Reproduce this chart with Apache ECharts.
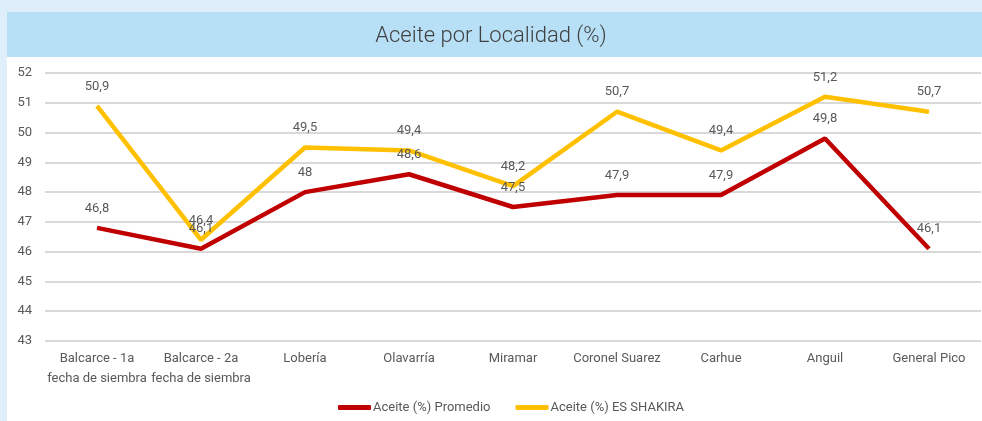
<!DOCTYPE html>
<html>
<head>
<meta charset="utf-8">
<script src="https://cdn.jsdelivr.net/npm/echarts@6/dist/echarts.min.js"></script>
<style>
  html, body { margin: 0; padding: 0; background: #deeefb; }
  #main { width: 982px; height: 421px; }
</style>
</head>
<body>
<div id="main"></div>
<script>
  // datos
  var localidades = ['Balcarce - 1a\nfecha de siembra', 'Balcarce - 2a\nfecha de siembra', 'Lobería', 'Olavarría',
    'Miramar', 'Coronel Suarez', 'Carhue', 'Anguil', 'General Pico'];
  var promedio = [46.8, 46.1, 48, 48.6, 47.5, 47.9, 47.9, 49.8, 46.1];
  var shakira = [50.9, 46.4, 49.5, 49.4, 48.2, 50.7, 49.4, 51.2, 50.7];

  var font = 'Roboto, sans-serif';

  function coma(p) {
    return String(p.value).replace('.', ',');
  }

  var myChart = echarts.init(document.getElementById('main'));
  myChart.setOption({
    backgroundColor: '#deeefb',
    textStyle: { fontFamily: font },
    graphic: [
      {
        type: 'rect', z: -10,
        shape: { x: 7, y: 12, width: 975, height: 409 },
        style: { fill: '#ffffff' }
      },
      {
        type: 'rect', z: -9,
        shape: { x: 7, y: 12, width: 975, height: 45 },
        style: { fill: '#b7dff5' }
      }
    ],
    title: {
      text: 'Aceite por Localidad (%)',
      left: 'center',
      top: 20,
      textStyle: { fontFamily: font, fontSize: 22, fontWeight: 300, color: '#404040' }
    },
    legend: {
      bottom: 2,
      left: 333,
      itemWidth: 33,
      itemHeight: 5,
      itemGap: 25,
      textStyle: { fontFamily: font, fontSize: 13, color: '#595959', padding: [0, 0, 0, -3] },
      data: [
        { name: 'Aceite (%) Promedio', icon: 'roundRect', itemStyle: { color: '#c00000' } },
        { name: 'Aceite (%) ES SHAKIRA', icon: 'roundRect', itemStyle: { color: '#ffc000' } }
      ]
    },
    grid: {
      left: 45,
      right: 1,
      top: 73,
      bottom: 80
    },
    xAxis: {
      type: 'category',
      data: localidades,
      axisLine: { show: false },
      axisTick: { show: false },
      axisLabel: { color: '#595959', fontSize: 13, fontFamily: font, margin: 8, lineHeight: 20, interval: 0 }
    },
    yAxis: {
      type: 'value',
      min: 43,
      max: 52,
      interval: 1,
      axisLabel: { color: '#595959', fontSize: 13, fontFamily: font, margin: 13 },
      splitLine: { lineStyle: { color: '#d9d9d9', width: 2 } }
    },
    series: [
      {
        name: 'Aceite (%) Promedio',
        type: 'line',
        data: promedio,
        color: '#c00000',
        symbol: 'circle',
        symbolSize: 0,
        showSymbol: true,
        lineStyle: { width: 4.5, color: '#c00000' },
        label: { show: true, position: 'top', distance: 13, color: '#595959', fontSize: 13, fontFamily: font, formatter: coma }
      },
      {
        name: 'Aceite (%) ES SHAKIRA',
        type: 'line',
        data: shakira,
        color: '#ffc000',
        symbol: 'circle',
        symbolSize: 0,
        showSymbol: true,
        lineStyle: { width: 4.5, color: '#ffc000' },
        label: { show: true, position: 'top', distance: 13, color: '#595959', fontSize: 13, fontFamily: font, formatter: coma }
      }
    ]
  });
</script>
</body>
</html>
